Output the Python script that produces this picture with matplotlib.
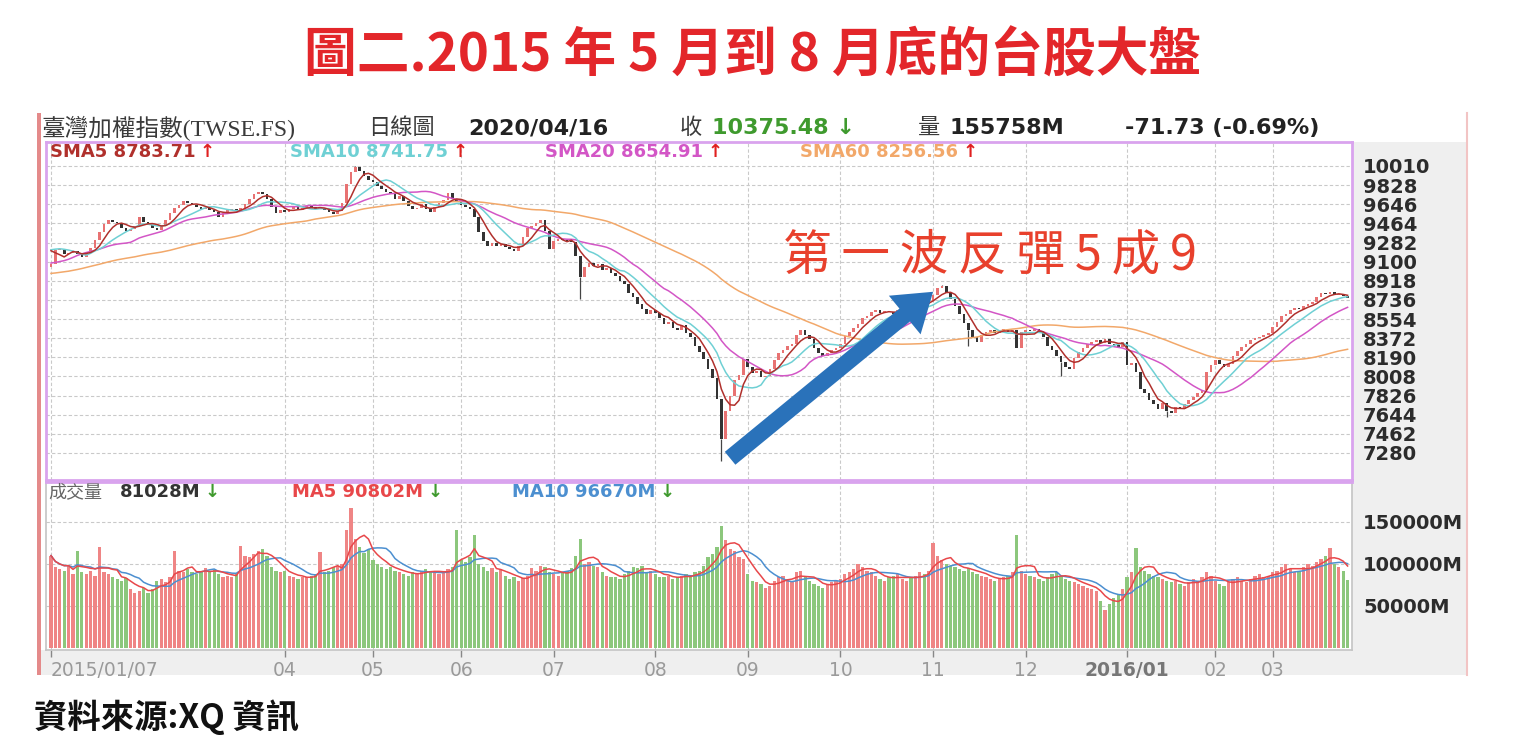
import numpy as np
import pandas as pd
import matplotlib
matplotlib.use("Agg")
import matplotlib.pyplot as plt
from matplotlib.patches import Rectangle

plt.rcParams['font.family'] = ['DejaVu Sans', 'Noto Sans CJK TC']
CJK = ['Noto Sans CJK TC', 'DejaVu Sans']

W, H = 1536, 748

# ---- data ----
month_days = [18, 13, 22, 20, 20, 21, 23, 21, 21, 21, 21, 23, 20, 13, 18]
month_labels = ['2015/01/07', '', '', '04', '05', '06', '07', '08', '09', '10', '11', '12',
                '2016/01', '02', '03']

# closes before the visible window, only used to seed the moving averages
closes_pre = [8960, 8880, 8870, 8800, 8730, 8680, 8590, 8550, 8620, 8720, 8760, 8790, 8840, 8870,
              8920, 8950, 8970,
              9020, 9000, 8980, 8960, 8990, 9030, 9050, 9020, 8990, 9010, 8980, 8950, 8990, 9030,
              9050, 9080, 9120, 9100, 9060, 9120,
              9190, 9180, 9150, 9100, 9050, 8990, 8920, 8850, 8800, 8840, 8940, 9020, 9100, 9150,
              9180, 9220, 9260, 9300, 9310, 9307,
              9274, 9048]

closes = [
    # 2015/01
    9080, 9210, 9215, 9170, 9185, 9200, 9175, 9140, 9190, 9230, 9310, 9380, 9460, 9500, 9480, 9470, 9420, 9395,
    # 02
    9410, 9440, 9520, 9480, 9450, 9420, 9400, 9445, 9500, 9560, 9610, 9640, 9680,
    # 03
    9660, 9640, 9620, 9600, 9610, 9590, 9570, 9520, 9560, 9590, 9600, 9580, 9610, 9650, 9700, 9740,
    9760, 9740, 9700, 9620, 9560, 9590,
    # 04
    9570, 9600, 9620, 9590, 9610, 9630, 9620, 9600, 9610, 9590, 9570, 9550, 9580, 9660, 9840, 9950,
    10000, 9960, 9910, 9880,
    # 05
    9860, 9820, 9790, 9760, 9740, 9700, 9720, 9680, 9630, 9600, 9610, 9650, 9600, 9570, 9620, 9660,
    9690, 9750, 9700, 9680,
    # 06
    9640, 9620, 9600, 9520, 9380, 9300, 9250, 9280, 9250, 9270, 9240, 9220, 9200, 9250, 9330, 9420,
    9440, 9470, 9500, 9390, 9220,
    # 07
    9300, 9320, 9310, 9300, 9290, 9150, 8950, 9050, 9090, 9060, 9080, 9020, 9040, 8990, 8960, 8920,
    8890, 8800, 8760, 8700, 8650, 8600, 8640,
    # 08
    8610, 8560, 8510, 8530, 8470, 8450, 8500, 8420, 8380, 8300, 8240, 8170, 8080, 7990, 7790, 7410,
    7680, 7820, 7970, 8020, 8170,
    # 09
    8100, 8040, 8060, 8000, 8010, 8080, 8160, 8230, 8260, 8300, 8320, 8400, 8450, 8400, 8360, 8280,
    8230, 8200, 8230, 8260, 8280,
    # 10
    8320, 8390, 8430, 8470, 8510, 8560, 8580, 8620, 8640, 8610, 8630, 8620, 8600, 8640, 8660, 8680,
    8670, 8700, 8720, 8700, 8730,
    # 11
    8780, 8850, 8870, 8800, 8740, 8680, 8600, 8520, 8450, 8380, 8340, 8400, 8430, 8450, 8420, 8440,
    8460, 8430, 8450, 8280, 8430,
    # 12
    8450, 8440, 8460, 8430, 8380, 8300, 8260, 8200, 8150, 8100, 8080, 8180, 8240, 8280, 8320, 8340,
    8350, 8330, 8360, 8320, 8310, 8290, 8338,
    # 2016/01
    8115, 8140, 8050, 7890, 7850, 7780, 7750, 7700, 7760, 7680, 7660, 7720, 7700, 7750, 7780, 7810,
    7850, 7880, 8050, 8120,
    # 02
    8160, 8130, 8100, 8130, 8200, 8250, 8290, 8320, 8350, 8370, 8380, 8400, 8420,
    # 03
    8480, 8530, 8580, 8600, 8640, 8660, 8650, 8680, 8700, 8720, 8760, 8800, 8790, 8810, 8780, 8790,
    8770, 8750,
]

# notable shadows (day index -> price)
wick_lows = {120: 8740, 152: 7203, 208: 8300, 229: 8010, 253: 7627}
wick_highs = {69: 10014, 202: 8880}

volumes = [
    110000, 96000, 94000, 92000, 98000, 88000, 116000, 90000, 88000, 92000, 86000, 120000, 90000, 88000,
    84000, 82000, 80000, 83000,
    70000, 66000, 68000, 72000, 66000, 70000, 80000, 82000, 78000, 84000, 116000, 92000, 90000,
    94000, 90000, 88000, 92000, 95000, 90000, 93000, 88000, 85000, 86000, 84000, 88000, 122000, 110000,
    108000, 112000, 115000, 118000, 110000, 96000, 92000, 90000,
    92000, 86000, 84000, 82000, 85000, 84000, 86000, 88000, 114000, 90000, 92000, 96000, 98000, 100000,
    141000, 167000, 130000, 120000, 113000, 118000,
    105000, 100000, 97000, 94000, 96000, 92000, 90000, 88000, 86000, 90000, 88000, 92000, 94000, 90000,
    92000, 88000, 90000, 94000, 96000, 141000,
    105000, 102000, 108000, 135000, 100000, 96000, 92000, 95000, 90000, 94000, 86000, 82000, 84000,
    80000, 83000, 86000, 95000, 92000, 98000, 96000, 90000,
    88000, 86000, 90000, 92000, 95000, 110000, 130000, 100000, 102000, 98000, 96000, 90000, 86000,
    84000, 85000, 82000, 88000, 92000, 96000, 95000, 98000, 90000, 92000,
    88000, 85000, 84000, 86000, 82000, 84000, 86000, 88000, 85000, 90000, 92000, 98000, 108000, 112000,
    120000, 145000, 128000, 118000, 115000, 108000, 106000,
    88000, 80000, 78000, 76000, 72000, 74000, 80000, 84000, 86000, 82000, 78000, 90000, 92000, 84000,
    80000, 76000, 74000, 72000, 76000, 78000, 80000,
    82000, 88000, 90000, 94000, 100000, 96000, 92000, 90000, 86000, 82000, 80000, 84000, 86000, 88000,
    82000, 80000, 84000, 86000, 90000, 88000, 92000,
    125000, 110000, 105000, 100000, 98000, 96000, 94000, 92000, 95000, 90000, 88000, 86000, 84000,
    82000, 80000, 82000, 84000, 86000, 90000, 134000, 92000,
    88000, 86000, 84000, 82000, 80000, 84000, 88000, 90000, 86000, 82000, 80000, 78000, 76000, 74000,
    72000, 70000, 68000, 56000, 45000, 52000, 60000, 64000, 70000,
    84000, 90000, 119000, 96000, 92000, 88000, 86000, 84000, 82000, 80000, 78000, 80000, 76000, 74000,
    78000, 82000, 80000, 84000, 90000, 86000,
    80000, 76000, 74000, 78000, 82000, 84000, 80000, 78000, 82000, 86000, 88000, 84000, 86000,
    90000, 92000, 96000, 100000, 94000, 90000, 92000, 96000, 100000, 98000, 102000, 106000, 110000,
    119000, 100000, 96000, 92000, 81028,
]

price_ticks = list(range(7280, 10011, 182))
vol_ticks = [50000, 100000, 150000]
vol_tick_labels = ['50000M', '100000M', '150000M']

# ---- derived series ----
n = len(closes)
x = np.arange(n)
c = np.array(closes, dtype=float)
o = np.r_[closes_pre[-1], c[:-1]]
full = pd.Series(list(closes_pre) + list(closes), dtype=float)
sma = {k: full.rolling(k).mean().values[len(closes_pre):] for k in (5, 10, 20, 60)}
vol = pd.Series(volumes, dtype=float)
vma5 = vol.rolling(5, min_periods=1).mean()
vma10 = vol.rolling(10, min_periods=1).mean()
up = c >= o

starts = np.r_[0, np.cumsum(month_days)[:-1]]
tick_pos = [s for s, l in zip(starts, month_labels) if l]
tick_lab = [l for l in month_labels if l]


def frect(x0, y0, x1, y1):
    return [x0 / W, 1 - y1 / H, (x1 - x0) / W, (y1 - y0) / H]


fig = plt.figure(figsize=(W / 100, H / 100), dpi=100)

bg = fig.add_axes([0, 0, 1, 1], zorder=-5)
bg.set_xlim(0, W)
bg.set_ylim(H, 0)
bg.axis('off')
bg.add_patch(Rectangle((1352, 142), 116, 508, color='#efefef', lw=0))
bg.add_patch(Rectangle((40, 650), 1428, 25, color='#efefef', lw=0))
bg.add_patch(Rectangle((37, 113), 4, 562, color='#e48a8a', lw=0))

lav = '#d9a3ee'
xl = (-1.13, 295.0)

# ---- price panel ----
axp = fig.add_axes(frect(46, 142, 1352, 480))
axp.set_xlim(*xl)
axp.set_ylim(7023, 10238)
body_lo = np.minimum(o, c)
body_h = np.maximum(np.abs(c - o), 8)
axp.bar(x[up], body_h[up], bottom=body_lo[up], width=0.6, color='#e87272', lw=0, zorder=3)
axp.bar(x[~up], body_h[~up], bottom=body_lo[~up], width=0.6, color='#333333', lw=0, zorder=3)
for i, v in wick_lows.items():
    axp.vlines(i, v, body_lo[i], color='#444444', lw=0.9, zorder=2)
for i, v in wick_highs.items():
    axp.vlines(i, body_lo[i] + body_h[i], v, color='#444444', lw=0.9, zorder=2)
ma_cols = {5: '#b0302c', 10: '#6fd0d4', 20: '#d356c6', 60: '#f2a86a'}
for k in (60, 20, 10, 5):
    axp.plot(x, sma[k], color=ma_cols[k], lw=1.1, zorder=4)

axp.set_yticks(price_ticks)
axp.yaxis.tick_right()
axp.tick_params(axis='y', length=0, pad=8, labelsize=14, labelcolor='#2c2c2c')
for t in axp.get_yticklabels():
    t.set_fontweight('bold')
axp.set_xticks(tick_pos)
axp.tick_params(axis='x', length=0, labelbottom=False)
axp.grid(True, ls=(0, (3, 2)), color='#c9c9c9', lw=0.8)
axp.set_axisbelow(True)
for s in axp.spines.values():
    s.set_color(lav)
    s.set_linewidth(2)

# arrow from the August low to the November high
i_low = min(wick_lows, key=wick_lows.get)
i_high = int(np.argmax(c[190:215])) + 190
axp.annotate('', xy=(i_high - 1.5, c[i_high] - 40), xytext=(i_low + 1.5, wick_lows[i_low] + 10),
             arrowprops=dict(arrowstyle='simple,head_length=1.1,head_width=1.5,tail_width=0.5',
                             mutation_scale=24, color='#2a72ba', lw=0), zorder=6)

# ---- volume panel ----
axv = fig.add_axes(frect(46, 482, 1352, 650))
axv.set_xlim(*xl)
axv.set_ylim(-2380, 197600)
axv.bar(x[up], vol.values[up], width=0.74, color='#ef8585', lw=0, zorder=3)
axv.bar(x[~up], vol.values[~up], width=0.74, color='#8cc77c', lw=0, zorder=3)
axv.plot(x, vma10, color='#4c8fd0', lw=1.1, zorder=4)
axv.plot(x, vma5, color='#e8474a', lw=1.1, zorder=4)
axv.set_yticks(vol_ticks)
axv.set_yticklabels(vol_tick_labels)
axv.yaxis.tick_right()
axv.tick_params(axis='y', length=0, pad=8, labelsize=14, labelcolor='#2c2c2c')
for t in axv.get_yticklabels():
    t.set_fontweight('bold')
axv.set_xticks(tick_pos)
axv.set_xticklabels(tick_lab)
axv.tick_params(axis='x', length=5, width=1, color='#888888', pad=3, labelsize=13.5,
                labelcolor='#9a9a9a')
xt = axv.get_xticklabels()
xt[0].set_ha('left')
for t in xt:
    if t.get_text() == '2016/01':
        t.set_fontweight('bold')
        t.set_color('#777777')
axv.grid(True, ls=(0, (3, 2)), color='#c9c9c9', lw=0.8)
axv.set_axisbelow(True)
for k, s in axv.spines.items():
    s.set_color('#c4c4c4')
    s.set_linewidth(1.2)
axv.spines['top'].set_color(lav)
axv.spines['top'].set_linewidth(2)

# ---- texts on top ----
top = fig.add_axes([0, 0, 1, 1], zorder=5)
top.set_xlim(0, W)
top.set_ylim(H, 0)
top.axis('off')
top.patch.set_alpha(0)
top.add_patch(Rectangle((1467, 113), 30, 565, color='white', lw=0))
top.plot([1467, 1467], [113, 675], color='#f2c4c4', lw=1.5)

top.text(753, 56, '圖二.2015 年 5 月到 8 月底的台股大盤', family=CJK, fontsize=38,
         fontweight='bold', color='#e3262a', ha='center', va='center')
top.text(34, 717, '資料來源:XQ 資訊', family=CJK, fontsize=24, fontweight='bold',
         color='#111111', ha='left', va='center')
top.text(990, 256, '\u2009'.join('第一波反彈5成9'), family=CJK, fontsize=35, color='#e8402c',
         ha='center', va='center')

hy = 128
hdr = dict(va='center', fontsize=16)
top.text(42, hy, '臺灣加權指數(TWSE.FS)', color='#3a3a3a', va='center', fontsize=17,
         family=['Liberation Serif', 'Noto Sans CJK TC'])
top.text(368, hy, '日線圖', color='#3a3a3a', **hdr)
top.text(468, hy, '2020/04/16', color='#222222', fontweight='bold', **hdr)
top.text(680, hy, '收', color='#3a3a3a', **hdr)
top.text(712, hy, '10375.48 ↓', color='#3f9a2e', fontweight='bold', **hdr)
top.text(918, hy, '量', color='#3a3a3a', **hdr)
top.text(950, hy, '155758M', color='#222222', fontweight='bold', **hdr)
top.text(1125, hy, '-71.73 (-0.69%)', color='#222222', fontweight='bold', **hdr)


def legend_item(px, py, label, col, arrow, acol, size=13):
    t = top.text(px, py, label, color=col, fontsize=size, fontweight='bold', va='center')
    top.annotate(arrow, xy=(1, 0.5), xycoords=t, xytext=(3, 0), textcoords='offset points',
                 color=acol, fontsize=size, fontweight='bold', va='center')


legend_item(50, 152, 'SMA5 8783.71', ma_cols[5], '↑', '#e02020')
legend_item(290, 152, 'SMA10 8741.75', ma_cols[10], '↑', '#e02020')
legend_item(545, 152, 'SMA20 8654.91', ma_cols[20], '↑', '#e02020')
legend_item(800, 152, 'SMA60 8256.56', ma_cols[60], '↑', '#e02020')

top.text(48, 492, '成交量', color='#666666', fontsize=13, va='center', family=CJK)
legend_item(120, 492, '81028M', '#333333', '↓', '#3f9a2e')
legend_item(292, 492, 'MA5 90802M', '#e8474a', '↓', '#3f9a2e')
legend_item(512, 492, 'MA10 96670M', '#4c8fd0', '↓', '#3f9a2e')

fig.savefig('out.png', dpi=100, facecolor='white')
